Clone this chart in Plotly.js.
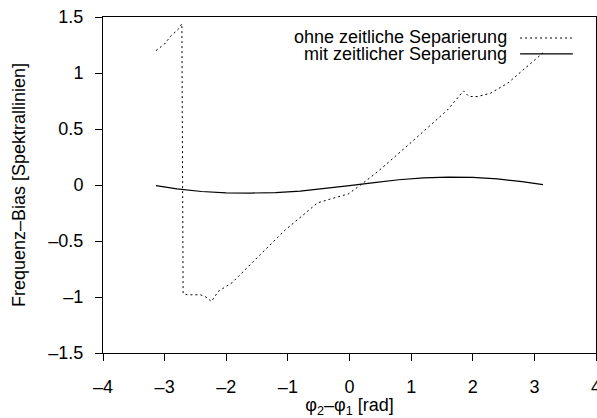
<!DOCTYPE html>
<html>
<head>
<meta charset="utf-8">
<script src="https://cdn.plot.ly/plotly-3.0.1.min.js"></script>
<style>html,body{margin:0;padding:0;background:#fff;}#chart{width:597px;height:418px;}</style>
</head>
<body>
<div id="chart"></div>
<script>
// Series 1: ohne zeitliche Separierung (dotted)
const xOhne = [-3.14, -3.0, -2.9, -2.78, -2.72, -2.70, -2.63, -2.42, -2.33, -2.24, -2.13, -1.9, -1.5, -1.04, -0.8, -0.52, -0.31, -0.02, 0.18, 0.46, 1.0, 1.59, 1.85, 1.94, 2.08, 2.29, 2.57, 2.83, 3.1, 3.14];
const yOhne = [1.20, 1.26, 1.33, 1.39, 1.44, -0.97, -0.98, -0.98, -1.00, -1.04, -0.95, -0.87, -0.65, -0.40, -0.29, -0.16, -0.125, -0.08, 0.0, 0.12, 0.38, 0.67, 0.84, 0.79, 0.79, 0.82, 0.91, 1.03, 1.16, 1.18];

// Series 2: mit zeitlicher Separierung (solid)
const xMit = [-3.14, -2.8, -2.4, -2.0, -1.6, -1.2, -0.8, -0.4, 0.0, 0.4, 0.8, 1.2, 1.6, 2.0, 2.4, 2.8, 3.14];
const yMit = [-0.005, -0.035, -0.058, -0.07, -0.072, -0.068, -0.055, -0.033, -0.006, 0.022, 0.047, 0.064, 0.071, 0.068, 0.054, 0.03, 0.004];

const seriesNames = ["ohne zeitliche Separierung", "mit zeitlicher Separierung"];
const xTicks = [-4, -3, -2, -1, 0, 1, 2, 3, 4];
const xTickText = ["\u20134", "\u20133", "\u20132", "\u20131", "0", "1", "2", "3", "4"];
const yTicks = [-1.5, -1, -0.5, 0, 0.5, 1, 1.5];
const yTickText = ["\u20131.5", "\u20131", "\u20130.5", "0", "0.5", "1", "1.5"];

const FONT = "Liberation Sans, Arial, Helvetica, sans-serif";
const FS = 18;
const dotDash = "2px,3px";

const traces = [
  {x: xOhne, y: yOhne, mode: "lines", name: seriesNames[0], line: {color: "#000", width: 1, dash: dotDash}, showlegend: false},
  {x: xMit, y: yMit, mode: "lines", name: seriesNames[1], line: {color: "#000", width: 1.2}, showlegend: false}
];

const layout = {
  width: 597, height: 418,
  margin: {l: 103, r: 1, t: 17, b: 65},
  paper_bgcolor: "#fff", plot_bgcolor: "#fff",
  font: {family: FONT, size: FS, color: "#000"},
  xaxis: {
    range: [-4, 4], tickvals: xTicks, ticktext: xTickText,
    ticks: "outside", ticklen: 7, tickcolor: "#000", tickwidth: 1,
    ticklabelstandoff: 10, ticklabeloverflow: "allow",
    showline: true, linecolor: "#000", linewidth: 1, mirror: true,
    showgrid: false, zeroline: false,
    title: {text: "\u03c6<sub>2</sub>\u2013\u03c6<sub>1</sub> [rad]", font: {size: FS}, standoff: 5}
  },
  yaxis: {
    range: [-1.5, 1.5], tickvals: yTicks, ticktext: yTickText,
    ticks: "outside", ticklen: 7, tickcolor: "#000", tickwidth: 1,
    ticklabelstandoff: 8, ticklabeloverflow: "allow",
    showline: true, linecolor: "#000", linewidth: 1, mirror: true,
    showgrid: false, zeroline: false,
    title: {text: "Frequenz\u2013Bias [Spektrallinien]", font: {size: FS}, standoff: 18}
  },
  annotations: [
    {xref: "paper", yref: "paper", x: 0.821, y: 0.940, xanchor: "right", yanchor: "middle", text: seriesNames[0], showarrow: false, font: {size: FS}, borderpad: 0},
    {xref: "paper", yref: "paper", x: 0.821, y: 0.889, xanchor: "right", yanchor: "middle", text: seriesNames[1], showarrow: false, font: {size: FS}, borderpad: 0}
  ],
  shapes: [
    {type: "line", xref: "paper", yref: "paper", x0: 0.846, x1: 0.953, y0: 0.9375, y1: 0.9375, line: {color: "#000", width: 1, dash: dotDash}},
    {type: "line", xref: "paper", yref: "paper", x0: 0.846, x1: 0.953, y0: 0.890, y1: 0.890, line: {color: "#000", width: 1.2}}
  ]
};

Plotly.newPlot("chart", traces, layout, {displayModeBar: false, staticPlot: true});
</script>
</body>
</html>
